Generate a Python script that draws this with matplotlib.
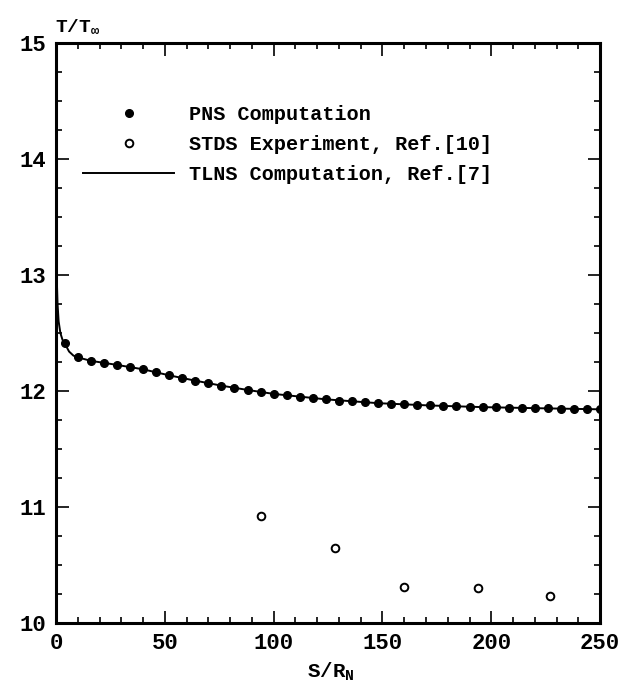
import matplotlib
matplotlib.use("Agg")
import matplotlib.pyplot as plt
from matplotlib.ticker import MultipleLocator

plt.rcParams["font.family"] = ["Liberation Mono", "DejaVu Sans"]
plt.rcParams["font.weight"] = "bold"
plt.rcParams["mathtext.fontset"] = "custom"
plt.rcParams["mathtext.rm"] = "Liberation Mono:bold"
plt.rcParams["mathtext.bf"] = "Liberation Mono:bold"
plt.rcParams["mathtext.it"] = "Liberation Mono:bold"

# PNS computation (filled dots)
pns_s = [4, 10, 16, 22, 28, 34, 40, 46, 52, 58, 64, 70, 76, 82, 88, 94, 100,
         106, 112, 118, 124, 130, 136, 142, 148, 154, 160, 166, 172, 178, 184,
         190, 196, 202, 208, 214, 220, 226, 232, 238, 244, 250]
pns_t = [12.41, 12.29, 12.26, 12.24, 12.225, 12.207, 12.187, 12.161, 12.135,
         12.115, 12.089, 12.066, 12.046, 12.026, 12.009, 11.99, 11.975, 11.962,
         11.95, 11.938, 11.928, 11.918, 11.91, 11.902, 11.895, 11.89, 11.885,
         11.88, 11.875, 11.871, 11.867, 11.864, 11.861, 11.858, 11.856, 11.854,
         11.852, 11.85, 11.848, 11.846, 11.844, 11.842]

# STDS experiment, Ref.[10] (open circles)
exp_s = [94, 128, 160, 194, 227]
exp_t = [10.92, 10.65, 10.31, 10.30, 10.235]

# TLNS computation, Ref.[7] (solid line)
tlns_s = [0.0, 0.3, 0.7, 1.2, 2.0, 3.0, 4.0, 6.0, 8.0, 10.0, 16, 28, 40, 52,
          64, 76, 88, 100, 124, 148, 172, 196, 220, 250]
tlns_t = [13.4, 13.0, 12.75, 12.6, 12.5, 12.44, 12.41, 12.34, 12.305, 12.29,
          12.26, 12.225, 12.187, 12.135, 12.089, 12.046, 12.009, 11.975, 11.928,
          11.895, 11.875, 11.861, 11.852, 11.842]

fig = plt.figure(figsize=(6.33, 6.91), dpi=100)
ax = fig.add_axes([0.0885, 0.0984, 0.8595, 0.8394])

ax.plot(tlns_s, tlns_t, color="black", lw=1.4,
        label="TLNS Computation, Ref.[7]", zorder=2)
ax.plot(pns_s, pns_t, "o", color="black", ms=5.5, ls="none",
        label="PNS Computation", zorder=3)
ax.plot(exp_s, exp_t, "o", mfc="white", mec="black", mew=1.4, ms=5.5,
        ls="none", label="STDS Experiment, Ref.[10]", zorder=3)

ax.set_xlim(0, 250)
ax.set_ylim(10, 15)
ax.xaxis.set_major_locator(MultipleLocator(50))
ax.xaxis.set_minor_locator(MultipleLocator(10))
ax.yaxis.set_major_locator(MultipleLocator(1))
ax.yaxis.set_minor_locator(MultipleLocator(0.25))
ax.tick_params(which="both", direction="in", top=True, right=True,
               width=1.2, labelsize=16, pad=7)
ax.tick_params(which="major", length=9)
ax.tick_params(which="minor", length=4)
for sp in ax.spines.values():
    sp.set_linewidth(2.2)

fig.text(0.087, 0.962, r"T/T$_\infty$", fontsize=14, ha="left", va="center")
fig.text(0.522, 0.028, r"S/R$_\mathrm{N}$", fontsize=15, ha="center", va="center")

h, l = ax.get_legend_handles_labels()
order = [1, 2, 0]
ax.legend([h[i] for i in order], [l[i] for i in order],
          loc="upper left", bbox_to_anchor=(0.05, 0.893), frameon=False,
          fontsize=14.5, handlelength=4.5, handletextpad=0.75, labelspacing=0.55,
          borderpad=0, borderaxespad=0, numpoints=1)

fig.savefig("out.png", dpi=100)
